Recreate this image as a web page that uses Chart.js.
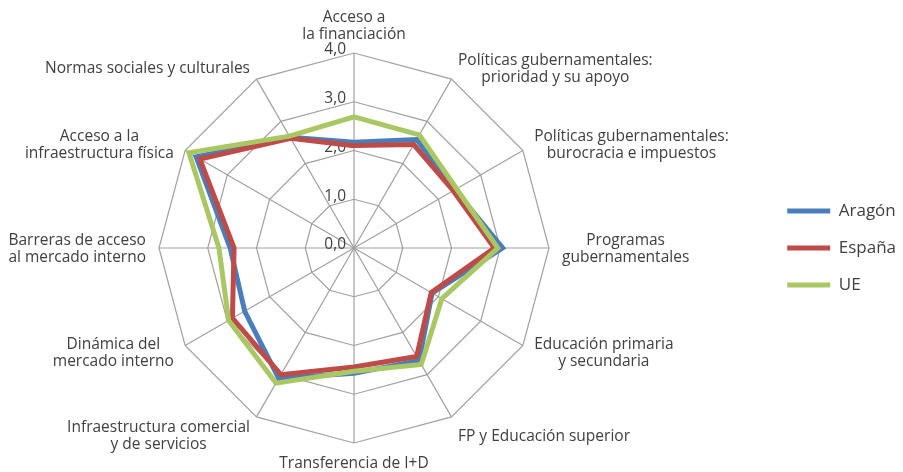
<!DOCTYPE html>
<html>
<head>
<meta charset="utf-8">
<script src="https://cdn.jsdelivr.net/npm/chart.js@4.4.0/dist/chart.umd.min.js"></script>
<style>
  html, body { margin: 0; padding: 0; background: #fff; }
  #wrap { width: 903px; height: 472px; }
</style>
</head>
<body>
<div id="wrap"><canvas id="chart"></canvas></div>
<script>
const categorias = [
  ["Acceso a", "la financiación"],
  ["Políticas gubernamentales:", "prioridad y su apoyo"],
  ["Políticas gubernamentales:", "burocracia e impuestos"],
  ["Programas", "gubernamentales"],
  ["Educación primaria", "y secundaria"],
  ["FP y Educación superior"],
  ["Transferencia de I+D"],
  ["Infraestructura comercial", "y de servicios"],
  ["Dinámica del", "mercado interno"],
  ["Barreras de acceso", "al mercado interno"],
  ["Acceso a la", "infraestructura física"],
  ["Normas sociales y culturales"]
];
const aragon = [2.17, 2.57, 2.39, 3.05, 1.85, 2.67, 2.57, 3.09, 2.59, 2.54, 3.74, 2.62];
const espana = [2.10, 2.45, 2.35, 2.88, 1.83, 2.57, 2.44, 3.00, 2.88, 2.46, 3.65, 2.60];
const ue     = [2.69, 2.68, 2.43, 2.95, 2.08, 2.76, 2.53, 3.20, 2.97, 2.77, 3.91, 2.65];
const ticksEscala = [0, 1, 2, 3, 4];

const textColor = '#404040';
const fontFamily = '"Open Sans", sans-serif';

// tick labels on the left of the vertical axis and point labels centred per line, like Excel
const etiquetas = {
  id: 'etiquetas',
  beforeDatasetsDraw(chart) {
    const s = chart.scales.r;
    const ctx = chart.ctx;
    ctx.save();
    ctx.fillStyle = textColor;
    ctx.font = '15.5px ' + fontFamily;
    ctx.textBaseline = 'middle';

    ctx.textAlign = 'right';
    ticksEscala.forEach(v => {
      const d = s.getDistanceFromCenterForValue(v);
      ctx.fillText(v.toFixed(1).replace('.', ','), s.xCenter - 8, s.yCenter - d - 3);
    });

    ctx.textAlign = 'center';
    const lh = 17;
    categorias.forEach((lines, i) => {
      const ang = s.getIndexAngle(i);
      const deg = Math.round(ang * 180 / Math.PI) % 360;
      const p = s.getPointPosition(i, s.drawingArea + 13);
      const w = Math.max(...lines.map(t => ctx.measureText(t).width));
      const h = lines.length * lh;
      let cx, cy;
      if (deg === 0) {
        cx = p.x; cy = p.y + 3 - h / 2;
      } else if (deg === 180) {
        cx = p.x; cy = p.y - 1 + h / 2;
      } else {
        cx = deg < 180 ? p.x + w / 2 : p.x - w / 2;
        cy = p.y + 1 + (Math.cos(ang) < -0.7 ? 7 : 0);
      }
      lines.forEach((t, k) => {
        ctx.fillText(t, cx, cy - h / 2 + lh / 2 + k * lh);
      });
    });
    ctx.restore();
  }
};

new Chart(document.getElementById('chart'), {
  type: 'radar',
  data: {
    labels: categorias,
    datasets: [
      { label: 'Aragón', data: aragon, borderColor: '#4a7ebb', backgroundColor: '#4a7ebb', pointBorderWidth: 5, order: 3 },
      { label: 'España', data: espana, borderColor: '#be4b48', backgroundColor: '#be4b48', pointBorderWidth: 5, order: 2 },
      { label: 'UE', data: ue, borderColor: '#a9c762', backgroundColor: '#a9c762', pointBorderWidth: 5, order: 1 }
    ]
  },
  options: {
    responsive: true,
    maintainAspectRatio: false,
    animation: false,
    layout: { padding: { top: 53, bottom: 29, left: 0, right: -3 } },
    elements: {
      line: { borderWidth: 5, tension: 0, fill: false },
      point: { radius: 0, hoverRadius: 0 }
    },
    scales: {
      r: {
        min: 0,
        max: 4,
        ticks: { stepSize: 1, display: false },
        pointLabels: { display: false },
        grid: { color: '#a0a0a0', lineWidth: 1.2 },
        angleLines: { color: '#a0a0a0', lineWidth: 1.2 },
        // the plot sits left of the middle of the free space, as in the original
        afterFit: (scale) => { scale.xCenter = Math.round(scale.chart.width * 0.392); }
      }
    },
    plugins: {
      legend: {
        position: 'right',
        labels: {
          usePointStyle: true,
          pointStyle: 'line',
          pointStyleWidth: 43,
          padding: 20,
          color: textColor,
          font: { family: fontFamily, size: 17 },
          sort: (a, b) => a.datasetIndex - b.datasetIndex
        }
      },
      tooltip: { enabled: false }
    }
  },
  plugins: [etiquetas]
});
</script>
</body>
</html>
